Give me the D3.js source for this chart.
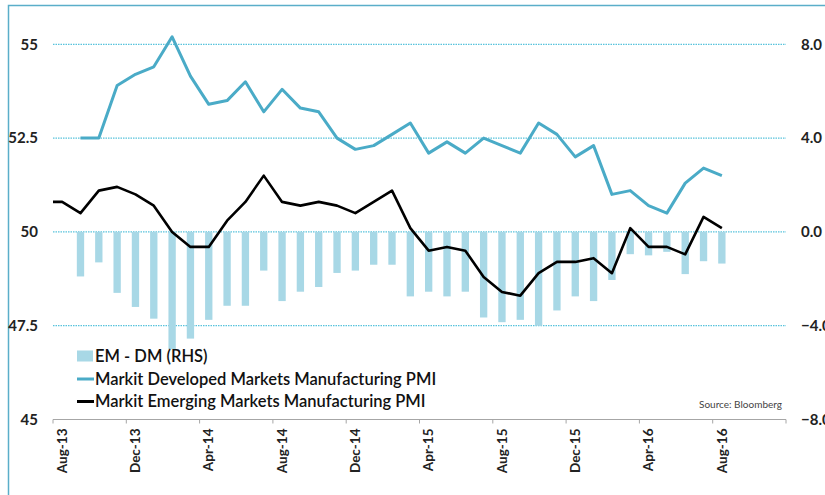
<!DOCTYPE html>
<html>
<head>
<meta charset="utf-8">
<script src="https://d3js.org/d3.v7.min.js"></script>
<style>
  body { margin: 0; background: #fff; }
  svg text { font-family: Lato, "Open Sans", sans-serif; }
</style>
</head>
<body>
<div id="chart"></div>
<script>
// categories (monthly), axis runs 3 months past the last data point
const months = [
  "Aug-13","Sep-13","Oct-13","Nov-13","Dec-13","Jan-14","Feb-14","Mar-14","Apr-14","May-14",
  "Jun-14","Jul-14","Aug-14","Sep-14","Oct-14","Nov-14","Dec-14","Jan-15","Feb-15","Mar-15",
  "Apr-15","May-15","Jun-15","Jul-15","Aug-15","Sep-15","Oct-15","Nov-15","Dec-15","Jan-16",
  "Feb-16","Mar-16","Apr-16","May-16","Jun-16","Jul-16","Aug-16","Sep-16","Oct-16","Nov-16"
];

// Markit Emerging Markets Manufacturing PMI, Aug-13 .. Aug-16
const emPmi = [
  50.8, 50.5, 51.1, 51.2, 51.0, 50.7, 50.0, 49.6, 49.6, 50.3,
  50.8, 51.5, 50.8, 50.7, 50.8, 50.7, 50.5, 50.8, 51.1, 50.1,
  49.5, 49.6, 49.5, 48.8, 48.4, 48.3, 48.9, 49.2, 49.2, 49.3,
  48.9, 50.1, 49.6, 49.6, 49.4, 50.4, 50.1
];

// Markit Developed Markets Manufacturing PMI, Sep-13 .. Aug-16
const dmPmi = [
  null, 52.5, 52.5, 53.9, 54.2, 54.4, 55.2, 54.15, 53.4, 53.5,
  54.0, 53.2, 53.8, 53.3, 53.2, 52.5, 52.2, 52.3, 52.6, 52.9,
  52.1, 52.4, 52.1, 52.5, 52.3, 52.1, 52.9, 52.6, 52.0, 52.3,
  51.0, 51.1, 50.7, 50.5, 51.3, 51.7, 51.5
];

// EM - DM spread (RHS), Sep-13 .. Aug-16
const spread = [
  null, -1.9, -1.3, -2.6, -3.2, -3.7, -5.0, -4.55, -3.75, -3.15,
  -3.15, -1.65, -2.95, -2.55, -2.35, -1.75, -1.65, -1.4, -1.4, -2.75,
  -2.55, -2.75, -2.55, -3.65, -3.85, -3.75, -4.0, -3.35, -2.75, -2.95,
  -2.05, -0.95, -1.0, -0.85, -1.8, -1.25, -1.35
];

const leftTicks = [45, 47.5, 50, 52.5, 55];
const rightTicks = [-8, -4, 0, 4, 8];
const labelEvery = 4;

const width = 825;
const height = 495;
const margin = ({top: 44.3, right: 39, bottom: 75.5, left: 53});

const lineBlue = "#4aabc7";
const barBlue = "#a8d8e6";
const gridBlue = "#58c3dc";

const svg = d3.select("#chart").append("svg")
  .attr("width", width)
  .attr("height", height);

const x = d3.scaleBand()
  .domain(months)
  .range([margin.left, width - margin.right]);

const yL = d3.scaleLinear()
  .domain([45, 55])
  .range([height - margin.bottom, margin.top]);

const yR = d3.scaleLinear()
  .domain([-8, 8])
  .range([height - margin.bottom, margin.top]);

const cx = m => x(m) + x.bandwidth() / 2;

// outer frame (only top and left edges show in the crop)
svg.append("path")
  .attr("d", `M8.5,${height} V5.5 H${width}`)
  .attr("fill", "none")
  .attr("stroke", "#5aaec9")
  .attr("stroke-width", 1.5);

// dotted gridlines
svg.append("g")
  .selectAll("line")
  .data(leftTicks.filter(d => d > 45))
  .join("line")
  .attr("x1", margin.left)
  .attr("x2", width - margin.right)
  .attr("y1", d => yL(d))
  .attr("y2", d => yL(d))
  .attr("stroke", gridBlue)
  .attr("stroke-width", 1.2)
  .attr("stroke-dasharray", "1.5,1");

// EM - DM bars
const barW = x.bandwidth() * 0.4;
svg.append("g")
  .selectAll("rect")
  .data(months.slice(0, spread.length).map((m, i) => ({m, v: spread[i]})).filter(d => d.v !== null))
  .join("rect")
  .attr("x", d => cx(d.m) - barW / 2)
  .attr("width", barW)
  .attr("y", d => yR(Math.max(0, d.v)))
  .attr("height", d => Math.abs(yR(d.v) - yR(0)))
  .attr("fill", barBlue);

// DM line
const dmData = months.slice(0, dmPmi.length).map((m, i) => ({m, v: dmPmi[i]})).filter(d => d.v !== null);
svg.append("path")
  .datum(dmData)
  .attr("fill", "none")
  .attr("stroke", lineBlue)
  .attr("stroke-width", 3)
  .attr("stroke-linejoin", "round")
  .attr("d", d3.line().x(d => cx(d.m)).y(d => yL(d.v)));

// EM line (starts flat from the left edge of the plot)
const emData = months.slice(0, emPmi.length).map((m, i) => ({m, v: emPmi[i]}));
const emLine = d3.line().x(d => d.x).y(d => yL(d.v));
const emPts = [{x: x.range()[0], v: emPmi[0]}].concat(emData.map(d => ({x: cx(d.m), v: d.v})));
svg.append("path")
  .datum(emPts)
  .attr("fill", "none")
  .attr("stroke", "#000")
  .attr("stroke-width", 2.6)
  .attr("stroke-linejoin", "round")
  .attr("d", emLine);

// left axis
svg.append("g")
  .attr("transform", `translate(${margin.left},0)`)
  .call(d3.axisLeft(yL).tickValues(leftTicks).tickFormat(d => d).tickSize(0).tickPadding(15))
  .call(g => g.select(".domain").remove())
  .selectAll("text")
  .attr("font-size", 15)
  .attr("font-weight", "bold")
  .attr("fill", "#222");

// right axis
svg.append("g")
  .attr("transform", `translate(${width - margin.right},0)`)
  .call(d3.axisRight(yR).tickValues(rightTicks).tickFormat(d3.format(".1f")).tickSize(0).tickPadding(15))
  .call(g => g.select(".domain").remove())
  .selectAll("text")
  .attr("font-size", 15)
  .attr("font-weight", "bold")
  .attr("fill", "#222");

// bottom axis: tick marks between categories every 4 months, labels at the category centre
const xAxis = svg.append("g")
  .attr("transform", `translate(0,${height - margin.bottom})`);

xAxis.append("line")
  .attr("x1", margin.left)
  .attr("x2", width - margin.right)
  .attr("stroke", "#a6a6a6")
  .attr("stroke-width", 1);

const tickPos = months.filter((m, i) => i % labelEvery === 0).map(m => x(m)).concat([x.range()[1]]);
xAxis.selectAll(".tk")
  .data(tickPos)
  .join("line")
  .attr("class", "tk")
  .attr("x1", d => d).attr("x2", d => d)
  .attr("y1", 0).attr("y2", 4)
  .attr("stroke", "#a6a6a6");

xAxis.selectAll(".lbl")
  .data(months.filter((m, i) => i % labelEvery === 0 && i < emPmi.length))
  .join("text")
  .attr("class", "lbl")
  .attr("transform", d => `translate(${cx(d)},9) rotate(-90)`)
  .attr("text-anchor", "end")
  .attr("dy", "0.35em")
  .attr("font-size", 13.5)
  .attr("font-weight", "bold")
  .attr("fill", "#222")
  .text(d => d);

// legend
const legend = svg.append("g").attr("transform", "translate(77,0)");
const items = [
  {name: "EM - DM (RHS)", type: "bar", y: 356},
  {name: "Markit Developed Markets Manufacturing PMI", type: "line", color: lineBlue, y: 379},
  {name: "Markit Emerging Markets Manufacturing PMI", type: "line", color: "#000", y: 401.5}
];
items.forEach(it => {
  if (it.type === "bar") {
    legend.append("rect").attr("x", 0).attr("y", it.y - 5.5).attr("width", 16).attr("height", 11).attr("fill", barBlue);
  } else {
    legend.append("line").attr("x1", 0).attr("x2", 17).attr("y1", it.y).attr("y2", it.y)
      .attr("stroke", it.color).attr("stroke-width", 3);
  }
  legend.append("text")
    .attr("x", 18)
    .attr("y", it.y)
    .attr("dy", "0.35em")
    .attr("font-size", 16.5)
    .attr("font-weight", 600)
    .attr("fill", "#111")
    .text(it.name);
});

svg.append("text")
  .attr("x", 699)
  .attr("y", 404)
  .attr("dy", "0.35em")
  .attr("font-size", 10)
  .attr("fill", "#444")
  .text("Source: Bloomberg");
</script>
</body>
</html>
